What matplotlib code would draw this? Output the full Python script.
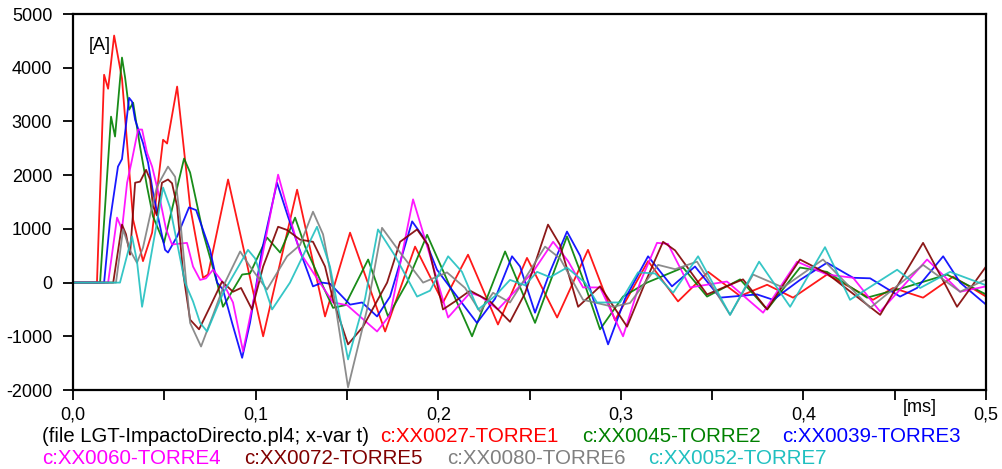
import matplotlib
matplotlib.use("Agg")
import matplotlib.pyplot as plt
from matplotlib.ticker import MultipleLocator, FuncFormatter

plt.rcParams['font.family'] = ['Liberation Sans', 'DejaVu Sans']

# time [ms] / current [A]
t_r1 = [0, 0.0131, 0.0170, 0.0192, 0.0225, 0.0268, 0.0329, 0.0383, 0.0433, 0.0493, 0.0515, 0.0570,
        0.0641, 0.0712, 0.0739, 0.0849, 0.1041, 0.1227, 0.1380, 0.1517, 0.1709, 0.1873, 0.2026,
        0.2163, 0.2327, 0.2486, 0.2651, 0.2820, 0.2968, 0.3149, 0.3313, 0.3478, 0.3653, 0.3801,
        0.3943, 0.4129, 0.4381, 0.4491, 0.4655, 0.4819, 0.5]
i_r1 = [0, 0, 3870, 3610, 4600, 3800, 1170, 400, 930, 2660, 2590, 3650,
        1420, 90, 150, 1920, -1000, 1730, -630, 930, -910, 670, -370,
        520, -780, 460, -650, 610, -700, 400, -350, 200, -250, -40,
        -280, 150, -320, -100, -280, 110, -260]

t_r2 = [0, 0.0148, 0.0208, 0.0230, 0.0268, 0.0285, 0.0307, 0.0329, 0.0367, 0.0405, 0.0438, 0.0498,
        0.0608, 0.0641, 0.0712, 0.0789, 0.0821, 0.0926, 0.0969, 0.1062, 0.1134, 0.1216, 0.1271,
        0.1369, 0.1424, 0.1490, 0.1616, 0.1725, 0.1829, 0.1939, 0.2185, 0.2366, 0.2530, 0.2705,
        0.2788, 0.2886, 0.3012, 0.3143, 0.3341, 0.3472, 0.3653, 0.3801, 0.3981, 0.4129, 0.4348,
        0.4545, 0.4786, 0.5]
i_r2 = [0, 0, 3090, 2720, 4190, 3820, 3220, 3350, 2530, 1790, 1230, 740,
        2310, 2050, 930, 0, -450, 150, 170, 840, 560, 1210, 670,
        -70, -470, -420, 430, -630, 0, 890, -1000, 580, -750, 860,
        110, -870, -260, 0, 280, -260, 60, -500, 280, 200, -280,
        -100, 150, -220]

t_r3 = [0, 0.0170, 0.0203, 0.0246, 0.0268, 0.0285, 0.0307, 0.0323, 0.0340, 0.0383, 0.0411, 0.0438,
        0.0465, 0.0504, 0.0520, 0.0570, 0.0635, 0.0674, 0.0750, 0.0789, 0.0821, 0.0871, 0.0926,
        0.0969, 0.1035, 0.1117, 0.1177, 0.1260, 0.1314, 0.1364, 0.1407, 0.1517, 0.1583, 0.1665,
        0.1736, 0.1857, 0.1928, 0.1993, 0.2103, 0.2212, 0.2311, 0.2404, 0.2448, 0.2530, 0.2612,
        0.2705, 0.2777, 0.2848, 0.2930, 0.3023, 0.3149, 0.3280, 0.3406, 0.3543, 0.3746, 0.3834,
        0.3981, 0.4129, 0.4272, 0.4365, 0.4529, 0.4622, 0.4765, 0.4858, 0.5]
i_r3 = [0, 0, 1170, 2160, 2300, 2790, 3440, 3370, 3030, 2600, 2230, 1680,
        1230, 610, 560, 860, 1400, 1350, 610, 0, -130, -750, -1400,
        -750, 610, 1860, 1230, 430, -70, 0, -20, -410, -370, -630,
        -260, 1140, 800, 240, -260, -750, -300, 490, 300, -560, 200,
        950, 500, -300, -1150, -300, 490, -70, 300, -280, -220, -320,
        50, 370, 90, 80, -260, -100, 490, 0, -410]

t_r4 = [0, 0.0192, 0.0241, 0.0268, 0.0296, 0.0323, 0.0356, 0.0378, 0.0405, 0.0433, 0.0476, 0.0509,
        0.0542, 0.0624, 0.0657, 0.0696, 0.0728, 0.0767, 0.0821, 0.0876, 0.0931, 0.1008, 0.1123,
        0.1188, 0.1243, 0.1336, 0.1424, 0.1501, 0.1665, 0.1736, 0.1862, 0.1955, 0.2054, 0.2174,
        0.2229, 0.2327, 0.2519, 0.2629, 0.2711, 0.2793, 0.2886, 0.3012, 0.3105, 0.3198, 0.3258,
        0.3379, 0.3581, 0.3779, 0.3965, 0.4129, 0.4272, 0.4420, 0.4677, 0.4858, 0.5]
i_r4 = [0, 0, 1210, 990, 1860, 2290, 2850, 2850, 2420, 2160, 1550, 1000,
        710, 740, 300, 50, 80, 240, 0, -370, -1280, 0, 2010,
        1200, 560, 80, -370, -420, -910, -600, 1550, 500, -650, -190,
        -250, -500, 200, 760, 400, -90, -90, -1000, 0, 740, 720,
        -90, 20, -560, 390, 150, 90, -540, 430, -170, -70]

t_r5 = [0, 0.0220, 0.0268, 0.0290, 0.0312, 0.0340, 0.0367, 0.0400, 0.0422, 0.0438, 0.0460, 0.0487,
        0.0520, 0.0542, 0.0570, 0.0602, 0.0641, 0.0690, 0.0750, 0.0816, 0.0876, 0.0920, 0.0980,
        0.1041, 0.1123, 0.1172, 0.1243, 0.1314, 0.1380, 0.1424, 0.1506, 0.1588, 0.1720, 0.1791,
        0.1884, 0.1944, 0.2026, 0.2092, 0.2174, 0.2284, 0.2393, 0.2475, 0.2601, 0.2667, 0.2766,
        0.2886, 0.3034, 0.3133, 0.3231, 0.3297, 0.3472, 0.3598, 0.3669, 0.3801, 0.3981, 0.4129,
        0.4420, 0.4655, 0.4841, 0.5]
i_r5 = [0, 0, 1080, 900, 520, 1860, 1880, 2100, 1920, 1420, 1250, 1860,
        1920, 1850, 1420, 200, -690, -870, -450, 20, -170, -100, -500,
        300, 1040, 980, 800, 760, 300, -320, -1150, -820, 0, 760,
        990, 700, -500, -350, -150, -350, -730, -200, 1080, 700, -450,
        -70, -820, 0, 760, 600, -220, -40, 60, -500, 430, 170,
        -600, 740, -450, 300]

t_r6 = [0, 0.0235, 0.0274, 0.0312, 0.0350, 0.0383, 0.0433, 0.0460, 0.0520, 0.0559, 0.0586, 0.0641,
        0.0701, 0.0767, 0.0832, 0.0915, 0.0969, 0.1062, 0.1172, 0.1243, 0.1314, 0.1369, 0.1407,
        0.1506, 0.1610, 0.1692, 0.1791, 0.1917, 0.2048, 0.2147, 0.2229, 0.2300, 0.2393, 0.2585,
        0.2667, 0.2793, 0.2957, 0.3050, 0.3204, 0.3297, 0.3417, 0.3598, 0.3724, 0.3888, 0.4107,
        0.4365, 0.4655, 0.4858, 0.5]
i_r6 = [0, 0, 990, 600, 370, 650, 1420, 1790, 2160, 1970, 1200, -750,
        -1190, -600, 0, 580, 300, -130, 490, 700, 1320, 900, 230,
        -1950, -500, 1020, 560, 0, 190, -100, -540, -190, -370, 670,
        450, -320, -450, -380, 330, 250, 390, -600, 150, -90, 430,
        -470, 330, -170, 60]

t_r7 = [0, 0.0257, 0.0323, 0.0350, 0.0378, 0.0422, 0.0493, 0.0531, 0.0613, 0.0657, 0.0696, 0.0734,
        0.0821, 0.0958, 0.0997, 0.1090, 0.1188, 0.1336, 0.1407, 0.1506, 0.1599, 0.1670, 0.1763,
        0.1884, 0.1955, 0.2054, 0.2130, 0.2218, 0.2311, 0.2393, 0.2475, 0.2541, 0.2612, 0.2705,
        0.2804, 0.2869, 0.2996, 0.3094, 0.3187, 0.3286, 0.3423, 0.3598, 0.3757, 0.3927, 0.4118,
        0.4255, 0.4513, 0.4639, 0.4803, 0.5]
i_r7 = [0, 0, 860, 400, -450, 400, 1770, 1400, 0, -350, -750, -910,
        -200, 610, 450, -500, 0, 1040, 300, -1430, -300, 990, 500,
        -260, -150, 490, 200, -500, -250, 50, -50, 200, 100, 280,
        0, -370, -370, 190, 170, -190, 490, -600, 390, -450, 660,
        -320, 240, -100, 200, -50]

names = ['c:XX0027-TORRE1', 'c:XX0045-TORRE2', 'c:XX0039-TORRE3', 'c:XX0060-TORRE4',
         'c:XX0072-TORRE5', 'c:XX0080-TORRE6', 'c:XX0052-TORRE7']
colors = ['#ff0000', '#008000', '#0000ff', '#ff00ff', '#800000', '#808080', '#20c0c0']
series = [(t_r1, i_r1), (t_r2, i_r2), (t_r3, i_r3), (t_r4, i_r4),
          (t_r5, i_r5), (t_r6, i_r6), (t_r7, i_r7)]

fig = plt.figure(figsize=(10.02, 4.69), dpi=100)
ax = fig.add_axes([0.0729, 0.1684, 0.9112, 0.8016])

for k in range(len(series)):
    t, i = series[k]
    ax.plot(t, i, color=colors[k], lw=1.3, solid_joinstyle='round', alpha=0.9)

ax.set_xlim(0, 0.5)
ax.set_ylim(-2000, 5000)
ax.xaxis.set_major_locator(MultipleLocator(0.1))
ax.xaxis.set_minor_locator(MultipleLocator(0.05))
ax.yaxis.set_major_locator(MultipleLocator(1000))
ax.xaxis.set_major_formatter(FuncFormatter(lambda v, p: ('%.1f' % v).replace('.', ',')))
ax.yaxis.set_major_formatter(FuncFormatter(lambda v, p: '%d' % v))
ax.tick_params(which='both', direction='out', length=7, width=1.3, labelsize=13, colors='black')
ax.tick_params(axis='x', pad=5)
ax.tick_params(axis='y', pad=8)
for s in ax.spines.values():
    s.set_linewidth(1.6)

ax.text(0.017, 0.905, '[A]', transform=ax.transAxes, fontsize=13)
fig.text(0.918, 0.122, '[ms]', fontsize=13, ha='center')

fig.text(0.042, 0.058, '(file LGT-ImpactoDirecto.pl4; x-var t)', fontsize=14.6, color='black')
leg_x = [0.379, 0.581, 0.781, 0.042, 0.244, 0.446, 0.647]
leg_y = [0.058, 0.058, 0.058, 0.01, 0.01, 0.01, 0.01]
for k in range(7):
    fig.text(leg_x[k], leg_y[k], names[k], fontsize=14.8, color=colors[k])

fig.savefig('out.png', dpi=100)
